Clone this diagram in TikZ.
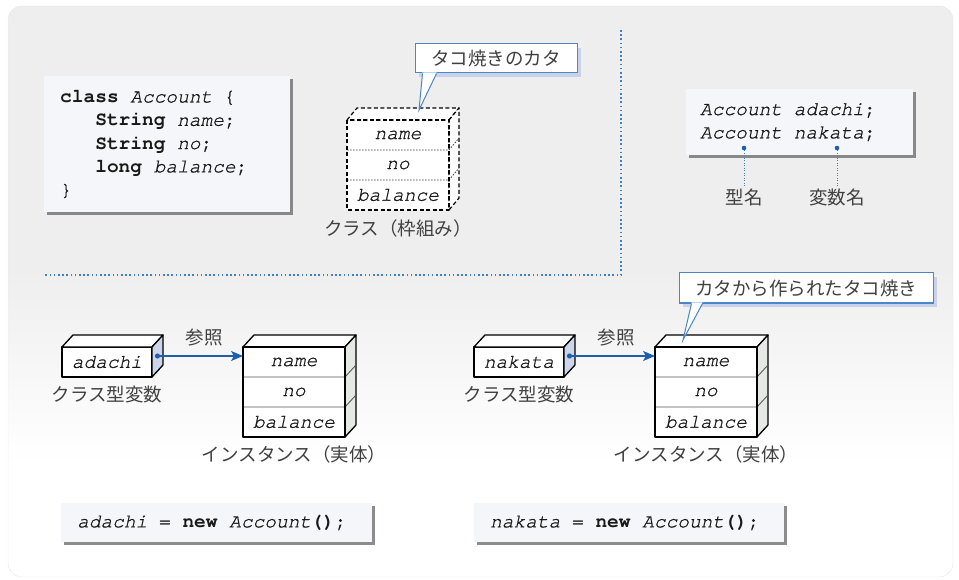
\documentclass[tikz,border=0pt]{standalone}
\usepackage{fontspec}
\setmonofont{texgyrecursor}[Extension=.otf, UprightFont=*-regular, BoldFont=*-bold, ItalicFont=*-italic, BoldItalicFont=*-bolditalic, UprightFeatures={FakeBold=0.9}, ItalicFeatures={FakeBold=0.9}]
\newfontfamily\jpfont{Noto Sans CJK JP}
\usetikzlibrary{calc,shadows,arrows.meta}

\definecolor{bgtop}{RGB}{238,238,238}
\definecolor{codefill}{RGB}{245,246,250}
\definecolor{labelgray}{RGB}{64,64,64}
\definecolor{linkblue}{RGB}{30,94,170}
\definecolor{sepblue}{RGB}{60,128,200}
\definecolor{callborder}{RGB}{74,134,200}
\definecolor{callshadow}{RGB}{200,210,232}
\definecolor{varside}{RGB}{204,213,234}
\definecolor{instside}{RGB}{230,232,230}
\definecolor{inktext}{RGB}{25,25,25}

% background: grey at the top fading to white near the bottom
\pgfdeclareverticalshading{bgfade}{100bp}{color(0bp)=(white); color(25bp)=(white); color(35bp)=(white); color(52bp)=(bgtop); color(75bp)=(bgtop); color(100bp)=(bgtop)}

% monospaced code font; \codesp is one full character cell of space
\newcommand\codefont{\ttfamily\fontsize{19.5}{23.3}\selectfont}
\newcommand\codesp{\hspace*{0.6em}}

\tikzset{
  mono/.style={font=\codefont, text=inktext},
  jplabel/.style={font=\jpfont\fontsize{18.5}{22}\selectfont, text=labelgray, inner sep=2pt},
  codebox/.style={mono, fill=codefill, anchor=north west, align=left, inner ysep=0pt,
    drop shadow={shadow xshift=3pt, shadow yshift=-3pt, fill=black!60, opacity=0.75}},
  boxedge/.style={draw=black, line width=1.3pt, line join=round},
  fieldrow/.style={mono, fill=white, minimum width=102pt, minimum height=30pt, inner sep=0pt, outer sep=0pt},
  varfront/.style={mono, boxedge, fill=white, minimum width=90pt, minimum height=30pt, inner sep=0pt, outer sep=0pt},
  divider/.style={draw=black!65, line width=0.9pt},
  dashedge/.style={draw=black, line width=1.2pt, dash pattern=on 4pt off 2.5pt, line join=round},
  dotdivider/.style={draw=black!75, line width=0.8pt, dash pattern=on 1.5pt off 1.5pt},
  link/.style={draw=linkblue, line width=1.2pt, -{Stealth[length=12pt,width=10pt,inset=3pt]}},
  separator/.style={draw=sepblue, line width=1.6pt, dash pattern=on 1.6pt off 2.6pt},
  leader/.style={draw=sepblue, line width=0.9pt, dash pattern=on 1pt off 1.5pt},
  callout/.style={jplabel, text=labelgray, fill=white, draw=callborder, line width=1pt,
    inner sep=0pt, drop shadow={shadow xshift=4pt, shadow yshift=-4pt, fill=callshadow, opacity=1}},
}

% reference variable drawn as a small box with a shaded side
\newcommand\drawVariable[2]{%
  \node[varfront] (#1) at (#2,362) {\textit{#1}};
  \filldraw[boxedge, fill=white] (#1.north west) -- ++(11,-12) -- ($(#1.north east)+(11,-12)$) -- (#1.north east) -- cycle;
  \filldraw[boxedge, fill=varside] (#1.north east) -- ++(11,-12) -- ($(#1.south east)+(11,-12)$) -- (#1.south east) -- cycle;
  \node[jplabel] (#1-label) at (#2,394) {クラス型変数};
}

% object with three fields
\newcommand\drawInstance[2]{%
  \node[fieldrow] (#1-name) at (#2,362) {\textit{name}};
  \node[fieldrow] (#1-no) at (#2,392) {\textit{no}};
  \node[fieldrow] (#1-bal) at (#2,422) {\textit{balance}};
  \filldraw[boxedge, fill=white] (#1-name.north west) -- ++(11,-12) -- ($(#1-name.north east)+(11,-12)$) -- (#1-name.north east) -- cycle;
  \filldraw[boxedge, fill=instside] (#1-name.north east) -- ++(11,-12) -- ($(#1-bal.south east)+(11,-12)$) -- (#1-bal.south east) -- cycle;
  \draw[divider] (#1-name.south west) -- (#1-name.south east) -- ++(11,-12);
  \draw[divider] (#1-no.south west) -- (#1-no.south east) -- ++(11,-12);
  \draw[boxedge] (#1-name.north west) rectangle (#1-bal.south east);
  \node[jplabel] (#1-label) at (#2,454) {インスタンス（実体）};
}

\begin{document}
\begin{tikzpicture}[x=1pt, y=-1pt]
\useasboundingbox (0,0) rectangle (959,580);
\path[shading=bgfade, draw=black!10, rounded corners=14pt] (8,6) rectangle (953,577);

% section separators
\draw[separator] (621,30) -- (621,275) -- (45,275);

% class declaration
\node[codebox, text width=214pt, inner xsep=16pt, minimum height=136pt] (classdecl) at (44,76)
  {\textbf{class}\codesp\textit{Account}\codesp\{\\
   \hspace*{1.8em}\textbf{String}\codesp\textit{name};\\
   \hspace*{1.8em}\textbf{String}\codesp\textit{no};\\
   \hspace*{1.8em}\textbf{long}\codesp\textit{balance};\\
   \}};

% the class as a mould (dashed box)
\node[fieldrow] (cls-name) at (398,135) {\textit{name}};
\node[fieldrow] (cls-no) at (398,165) {\textit{no}};
\node[fieldrow] (cls-bal) at (398,195) {\textit{balance}};
\filldraw[dashedge, fill=white] (cls-name.north west) -- ++(10,-12) -- ($(cls-name.north east)+(10,-12)$) -- (cls-name.north east) -- cycle;
\filldraw[dashedge, fill=white] (cls-name.north east) -- ++(10,-12) -- ($(cls-bal.south east)+(10,-12)$) -- (cls-bal.south east) -- cycle;
\draw[dotdivider] (cls-name.south west) -- (cls-name.south east) -- ++(10,-12);
\draw[dotdivider] (cls-no.south west) -- (cls-no.south east) -- ++(10,-12);
\draw[dashedge] (cls-name.north west) rectangle (cls-bal.south east);
\node[jplabel] (cls-label) at (398,228) {クラス（枠組み）};

% callout: the mould
\node[callout, minimum width=162pt, minimum height=29pt] (mould) at (496,58.5) {タコ焼きのカタ};
\coordinate (mould-tip) at (419,110);
\fill[white] ($(mould.south west)+(8,-1)$) -- (mould-tip) -- ($(mould.south west)+(22,-1)$) -- cycle;
\draw[draw=callborder, line width=1pt] ($(mould.south west)+(8,0)$) -- (mould-tip) -- ($(mould.south west)+(22,0)$);

% variable declarations
\node[codebox, text width=199pt, inner xsep=14pt, minimum height=66pt] (vardecl) at (686,89)
  {\textit{Account\codesp adachi};\\\textit{Account\codesp nakata};};
\coordinate (typedot) at (744,148);
\coordinate (namedot) at (837,148);
\node[jplabel] (typename) at (744,197) {型名};
\node[jplabel] (varname) at (837,197) {変数名};
\draw[leader] (typedot) -- (typename.north);
\draw[leader] (namedot) -- (varname.north);
\fill[linkblue] (typedot) circle (2.3);
\fill[linkblue] (namedot) circle (2.3);

% left: adachi refers to an instance
\drawVariable{adachi}{107}
\drawInstance{objA}{294}
\coordinate (adachi-dot) at ($(adachi.east)+(5.5,-6)$);
\draw[link] (adachi-dot) -- (adachi-dot -| objA-name.west);
\fill[linkblue] (adachi-dot) circle (2.6);
\node[jplabel] (refA) at (204,338) {参照};

% right: nakata refers to an instance
\drawVariable{nakata}{519}
\drawInstance{objB}{706}
\coordinate (nakata-dot) at ($(nakata.east)+(5.5,-6)$);
\draw[link] (nakata-dot) -- (nakata-dot -| objB-name.west);
\fill[linkblue] (nakata-dot) circle (2.6);
\node[jplabel] (refB) at (616,338) {参照};

% callout: the product
\node[callout, minimum width=254pt, minimum height=30pt] (product) at (806,288) {カタから作られたタコ焼き};
\coordinate (product-tip) at (683,340);
\fill[white] ($(product.south west)+(13,-1)$) -- (product-tip) -- ($(product.south west)+(24,-1)$) -- cycle;
\draw[draw=callborder, line width=1pt] ($(product.south west)+(13,0)$) -- (product-tip) -- ($(product.south west)+(24,0)$);

% instantiation statements
\node[codebox, text width=279pt, inner xsep=16pt, minimum height=39pt] (newA) at (61,503)
  {\textit{adachi}\codesp=\codesp\textbf{new}\codesp\textit{Account}\textbf{()};};
\node[codebox, text width=278pt, inner xsep=16pt, minimum height=39pt] (newB) at (474,503)
  {\textit{nakata}\codesp=\codesp\textbf{new}\codesp\textit{Account}\textbf{()};};
\end{tikzpicture}
\end{document}
